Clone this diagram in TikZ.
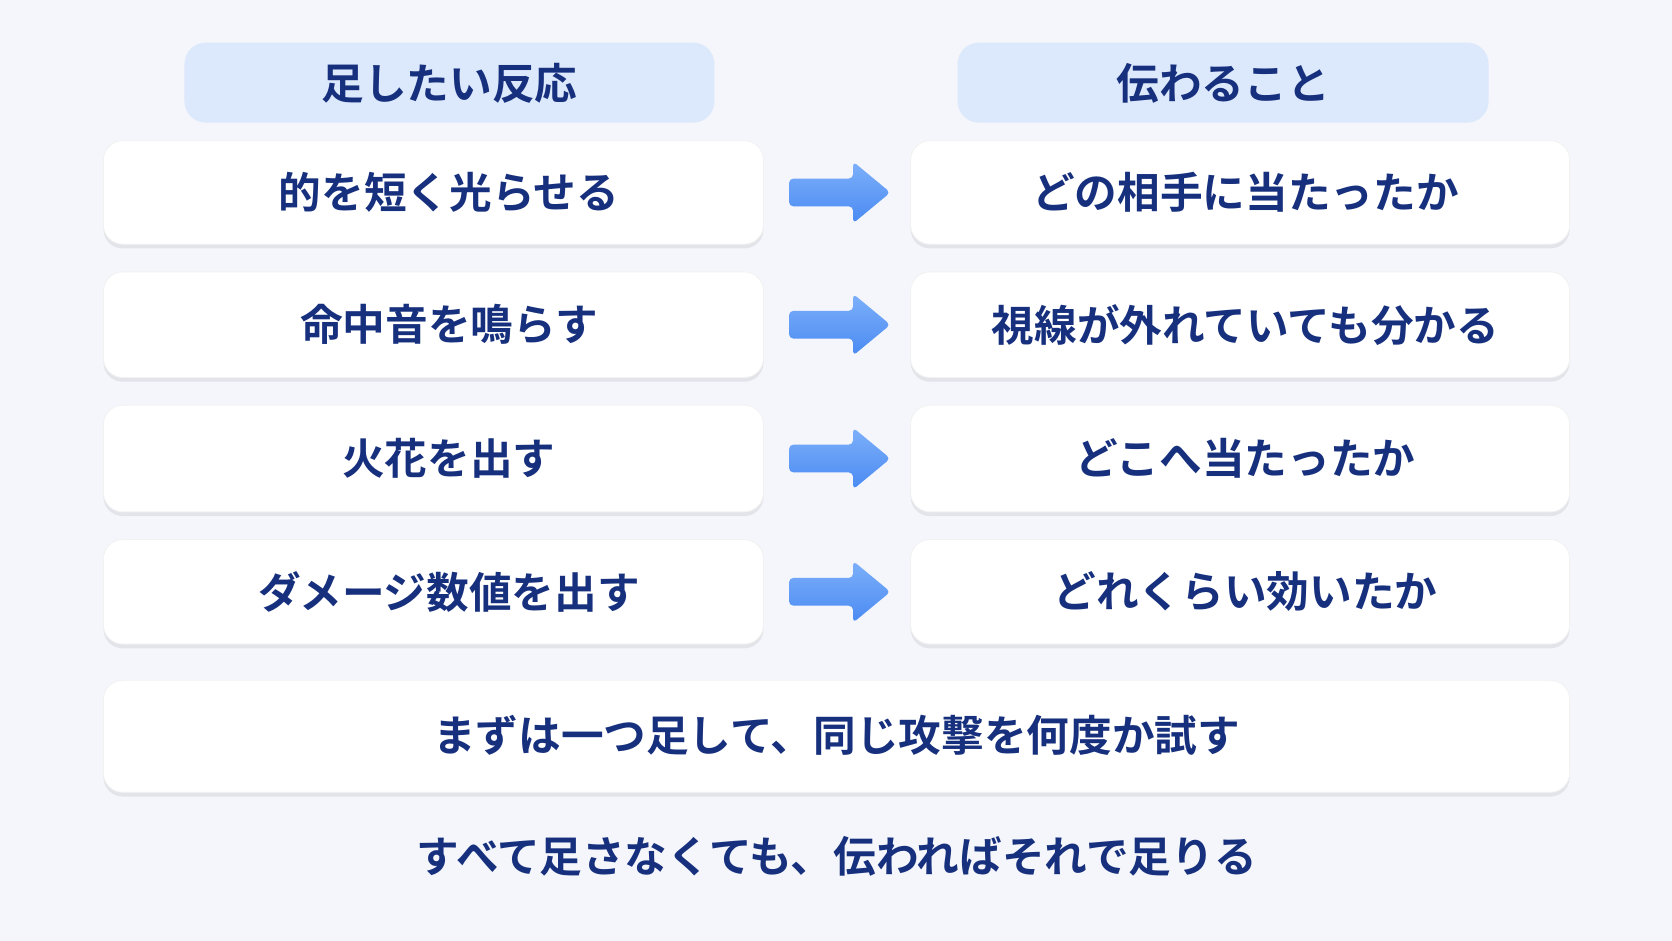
\documentclass[tikz,border=0pt]{standalone}
\usepackage{fontspec}
\newfontfamily\jp{Noto Sans CJK JP}[BoldFont={* Bold}]
\usetikzlibrary{shadows}
\definecolor{bg}{HTML}{F4F6FB}
\definecolor{hd}{HTML}{DCE8FB}
\definecolor{tx}{HTML}{17307E}
\definecolor{ar}{HTML}{4A8AF2}
\definecolor{arl}{HTML}{7DB0FA}
\begin{document}
\begin{tikzpicture}[x=0.5pt,y=-0.5pt,
  lbl/.style={font=\jp\bfseries\fontsize{20}{24}\selectfont, text=tx},
  card/.style={draw=black!5, fill=white, rounded corners=9pt, drop shadow={shadow xshift=0pt,shadow yshift=-2pt,opacity=0.07,fill=black}},
  head/.style={fill=hd, draw=none, rounded corners=10pt},
  arrowshape/.style={top color=arl, bottom color=ar, draw=none, rounded corners=2pt}]
\useasboundingbox (0,0) rectangle (1568,882);
\fill[bg] (0,0) rectangle (1568,882);
% headers
\path[head] (173,40) rectangle (670,115);
\node[lbl] (hl) at (421.5,78) {足したい反応};
\path[head] (898,40) rectangle (1396,115);
\node[lbl] (hr) at (1147,78) {伝わること};
% rows
\foreach \i/\ya/\yb/\lt/\rt in {1/132/229/的を短く光らせる/どの相手に当たったか,
 2/255/354/命中音を鳴らす/視線が外れていても分かる,
 3/380/480/火花を出す/どこへ当たったか,
 4/506/604/ダメージ数値を出す/どれくらい効いたか}{
  \draw[card] (97,\ya) rectangle (716,\yb);
  \draw[card] (854,\ya) rectangle (1472,\yb);
  \pgfmathsetmacro\yc{(\ya+\yb)/2}
  \node[lbl] (l\i) at (421,\yc) {\lt};
  \node[lbl] (r\i) at (1168,\yc) {\rt};
  \path[arrowshape] (740,\yc-13) -- (800,\yc-13) -- (800,\yc-29) -- (835,\yc) -- (800,\yc+29) -- (800,\yc+13) -- (740,\yc+13) -- cycle;
}
\draw[card] (97,638) rectangle (1472,743);
\node[lbl] (tip) at (784.5,690) {まずは一つ足して、同じ攻撃を何度か試す};
\node[lbl] (foot) at (784.5,803) {すべて足さなくても、伝わればそれで足りる};
\end{tikzpicture}
\end{document}
